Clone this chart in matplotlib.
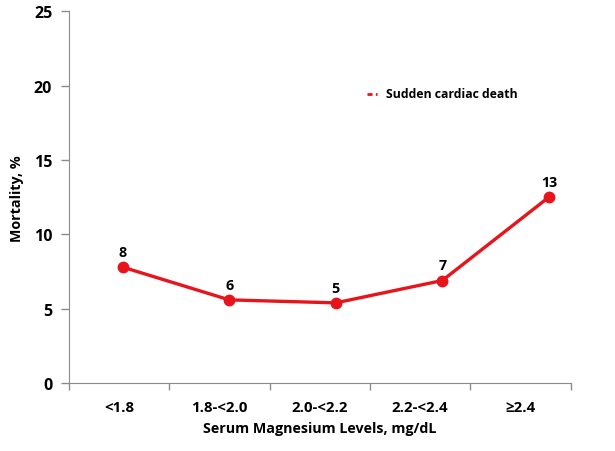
import numpy as np
import matplotlib.pyplot as plt
from matplotlib.lines import Line2D

categories = ['<1.8', '1.8-<2.0', '2.0-<2.2', '2.2-<2.4', '\u22652.4']
mortality = [7.8, 5.6, 5.4, 6.9, 12.5]
point_labels = ['8', '6', '5', '7', '13']
yticks = [0, 5, 10, 15, 20, 25]

plt.rcParams['font.family'] = ['Open Sans', 'DejaVu Sans']
plt.rcParams['font.weight'] = 'bold'

fig = plt.figure(figsize=(6.15, 4.52), dpi=100)
ax = fig.add_axes([0.112, 0.150, 0.816, 0.823])
gray = '#8c8c8c'

n = len(categories)
ax.set_xlim(-0.5, n - 0.5)
ax.set_ylim(0, 25)
ax.set_yticks(yticks)
ax.set_xticks(np.arange(n))
ax.set_xticklabels(categories, fontsize=10.8, fontweight='bold')
ax.set_xticks(np.arange(n + 1) - 0.5, minor=True)
ax.tick_params(axis='x', which='major', length=0, pad=12)
ax.tick_params(axis='x', which='minor', length=5, color=gray, width=1)
ax.tick_params(axis='y', length=6, color=gray, width=1, labelsize=11.5, pad=6)
for t in ax.get_yticklabels():
    t.set_fontweight('bold')
for s in ['top', 'right']:
    ax.spines[s].set_visible(False)
for s in ['left', 'bottom']:
    ax.spines[s].set_color(gray)
ax.set_xlabel('Serum Magnesium Levels, mg/dL', fontsize=10.3, fontweight='bold', labelpad=5)
ax.set_ylabel('Mortality, %', fontsize=10.3, fontweight='bold', labelpad=7)

# the line sits on its own slightly wider scale, like the original
lx = fig.add_axes(ax.get_position(), sharey=ax, frameon=False)
lx.set_xlim(-0.506, n - 1 + 0.206)
lx.axis('off')
xs = np.arange(n)
lx.plot(xs, mortality, color='#e8141c', lw=2.4, marker='o', ms=7.5, zorder=3)
for x, y, lab in zip(xs, mortality, point_labels):
    lx.annotate(lab, (x, y), xytext=(0, 6), textcoords='offset points',
                ha='center', va='bottom', fontsize=10.3, fontweight='bold')

# legend entry: short red dashes + label
fig.lines.append(Line2D([0.597, 0.6125], [0.790, 0.790], transform=fig.transFigure,
                        color='#e8141c', lw=2.0, linestyle=(0, (1.8, 1.2)),
                        solid_capstyle='butt', dash_capstyle='butt'))
fig.text(0.628, 0.790, 'Sudden cardiac death', fontsize=8.8, fontweight='bold', va='center')

fig.savefig('out.png', dpi=100)
